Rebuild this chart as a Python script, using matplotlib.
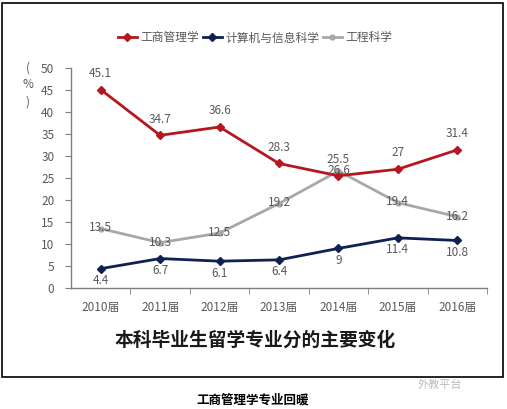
import matplotlib
matplotlib.use("Agg")
import matplotlib.pyplot as plt
from matplotlib.patches import Rectangle

plt.rcParams['font.family'] = ['Noto Sans CJK SC', 'DejaVu Sans']

# 数据
years = ['2010届', '2011届', '2012届', '2013届', '2014届', '2015届', '2016届']
gongshang = [45.1, 34.7, 36.6, 28.3, 25.5, 27, 31.4]
jisuanji = [4.4, 6.7, 6.1, 6.4, 9, 11.4, 10.8]
gongcheng = [13.5, 10.3, 12.5, 19.2, 26.6, 19.4, 16.2]
names = ['工商管理学', '计算机与信息科学', '工程科学']

red = '#B8161E'
navy = '#0F2152'
grey = '#A8A8A8'
txt = '#595959'

fig = plt.figure(figsize=(5.07, 4.09), dpi=100)
ax = fig.add_axes([0.140, 0.2958, 0.8206, 0.5379])

x = list(range(len(years)))
ax.plot(x, gongshang, color=red, lw=2, marker='D', ms=4.5, label=names[0], zorder=3)
ax.plot(x, jisuanji, color=navy, lw=2, marker='D', ms=4.5, label=names[1], zorder=3)
ax.plot(x, gongcheng, color=grey, lw=2, marker='o', ms=3.5, label=names[2], zorder=2)

# 数据标签
for i in x:
    ax.annotate(f'{gongshang[i]:g}', (i, gongshang[i]), xytext=(0, 7),
                textcoords='offset points', ha='center', va='bottom',
                fontsize=8.5, color=txt)
    ax.annotate(f'{jisuanji[i]:g}', (i, jisuanji[i]), xytext=(0, -4),
                textcoords='offset points', ha='center', va='top',
                fontsize=8.5, color=txt)
    ax.annotate(f'{gongcheng[i]:g}', (i, gongcheng[i]), xytext=(0, 0.5),
                textcoords='offset points', ha='center', va='center',
                fontsize=8.5, color=txt, zorder=4)

ax.set_xlim(-0.5, len(years) - 0.5)
ax.set_ylim(0, 50)
ax.set_yticks(range(0, 51, 5))
ax.set_xticks(x)
ax.set_xticklabels(years)
ax.set_xticks([i + 0.5 for i in x], minor=True)
ax.tick_params(axis='x', which='major', length=0, pad=9, labelsize=8.5, labelcolor=txt)
ax.tick_params(axis='x', which='minor', length=4, color='#7F7F7F', direction='out')
ax.tick_params(axis='y', length=4, color='#7F7F7F', labelsize=8.5, labelcolor=txt, pad=8)

for s in ['top', 'right']:
    ax.spines[s].set_visible(False)
for s in ['left', 'bottom']:
    ax.spines[s].set_color('#7F7F7F')
    ax.spines[s].set_linewidth(1)

# (%) 竖排
for k, ch in enumerate(['(', '%', ')']):
    fig.text(28 / 507, 1 - (68 + 17 * k) / 409, ch, ha='center', va='center',
             fontsize=8.5, color=txt)

leg = ax.legend(loc='center', bbox_to_anchor=(255 / 507, 1 - 38 / 409),
                bbox_transform=fig.transFigure, ncol=3, frameon=False,
                fontsize=8.5, handlelength=1.6, columnspacing=0.3,
                handletextpad=0.3)
for t in leg.get_texts():
    t.set_color(txt)

fig.text(255 / 507, 1 - 340 / 409, '本科毕业生留学专业分的主要变化', ha='center',
         va='center', fontsize=13.5, fontweight='bold', color='#1A1A1A')

# 外框
fig.patches.append(Rectangle((2 / 507, 1 - 377 / 409), 501 / 507, 374 / 409,
                             transform=fig.transFigure, fill=False,
                             edgecolor='black', lw=1.2))

fig.text(440 / 507, 1 - 385 / 409, '外教平台', ha='center', va='center',
         fontsize=8, color='#BBBBBB')
fig.text(253 / 507, 1 - 400 / 409, '工商管理学专业回暖', ha='center', va='center',
         fontsize=9, fontweight='bold', color='black')

fig.savefig('out.png', dpi=100)
